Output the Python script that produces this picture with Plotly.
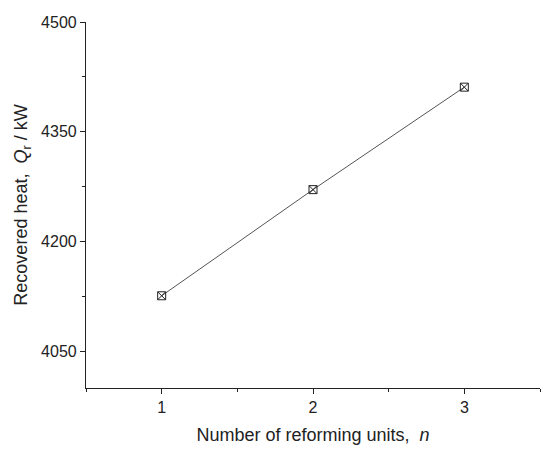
import plotly.graph_objects as go

# data
units = [1, 2, 3]
recovered_heat = [4126, 4271, 4411]

x_ticks = [1, 2, 3]
y_ticks = [4050, 4200, 4350, 4500]

fig = go.Figure()

fig.add_trace(
    go.Scatter(
        x=units,
        y=recovered_heat,
        mode="lines+markers",
        line=dict(color="#555555", width=1),
        marker=dict(
            symbol="square-x-open",
            size=8,
            color="#222222",
            line=dict(width=1, color="#222222"),
        ),
        showlegend=False,
    )
)

axis_common = dict(
    showline=True,
    linecolor="#222222",
    linewidth=1.2,
    showgrid=False,
    zeroline=False,
    ticks="outside",
    ticklen=5,
    tickwidth=1.2,
    tickcolor="#222222",
    tickfont=dict(family="Liberation Sans, Arial", size=16, color="#222222"),
    mirror=False,
    automargin=False,
)

fig.update_layout(
    width=550,
    height=453,
    paper_bgcolor="white",
    plot_bgcolor="white",
    margin=dict(l=86, r=10, t=22, b=65),
    font=dict(family="Liberation Sans, Arial", color="#222222"),
    xaxis=dict(
        **axis_common,
        range=[0.5, 3.5],
        tickvals=x_ticks,
        minor=dict(ticks="outside", ticklen=3, tickwidth=1.2, tickcolor="#222222",
                   tickvals=[0.5, 1.5, 2.5, 3.5]),
        title=dict(text="Number of reforming units,  <i>n</i>",
                   font=dict(size=18), standoff=13),
    ),
    yaxis=dict(
        **axis_common,
        range=[4000, 4500],
        tickvals=y_ticks,
        minor=dict(ticks="outside", ticklen=3, tickwidth=1.2, tickcolor="#222222",
                   tickvals=[4125, 4275, 4425]),
        title=dict(text="Recovered heat,  <i>Q</i><sub>r</sub> / kW",
                   font=dict(size=18), standoff=8),
    ),
)

# remove the page's default body margin so the figure sits at the window origin
fig.write_html(
    "out.html",
    config={"displayModeBar": False},
    post_script="document.body.style.margin='0';",
)
